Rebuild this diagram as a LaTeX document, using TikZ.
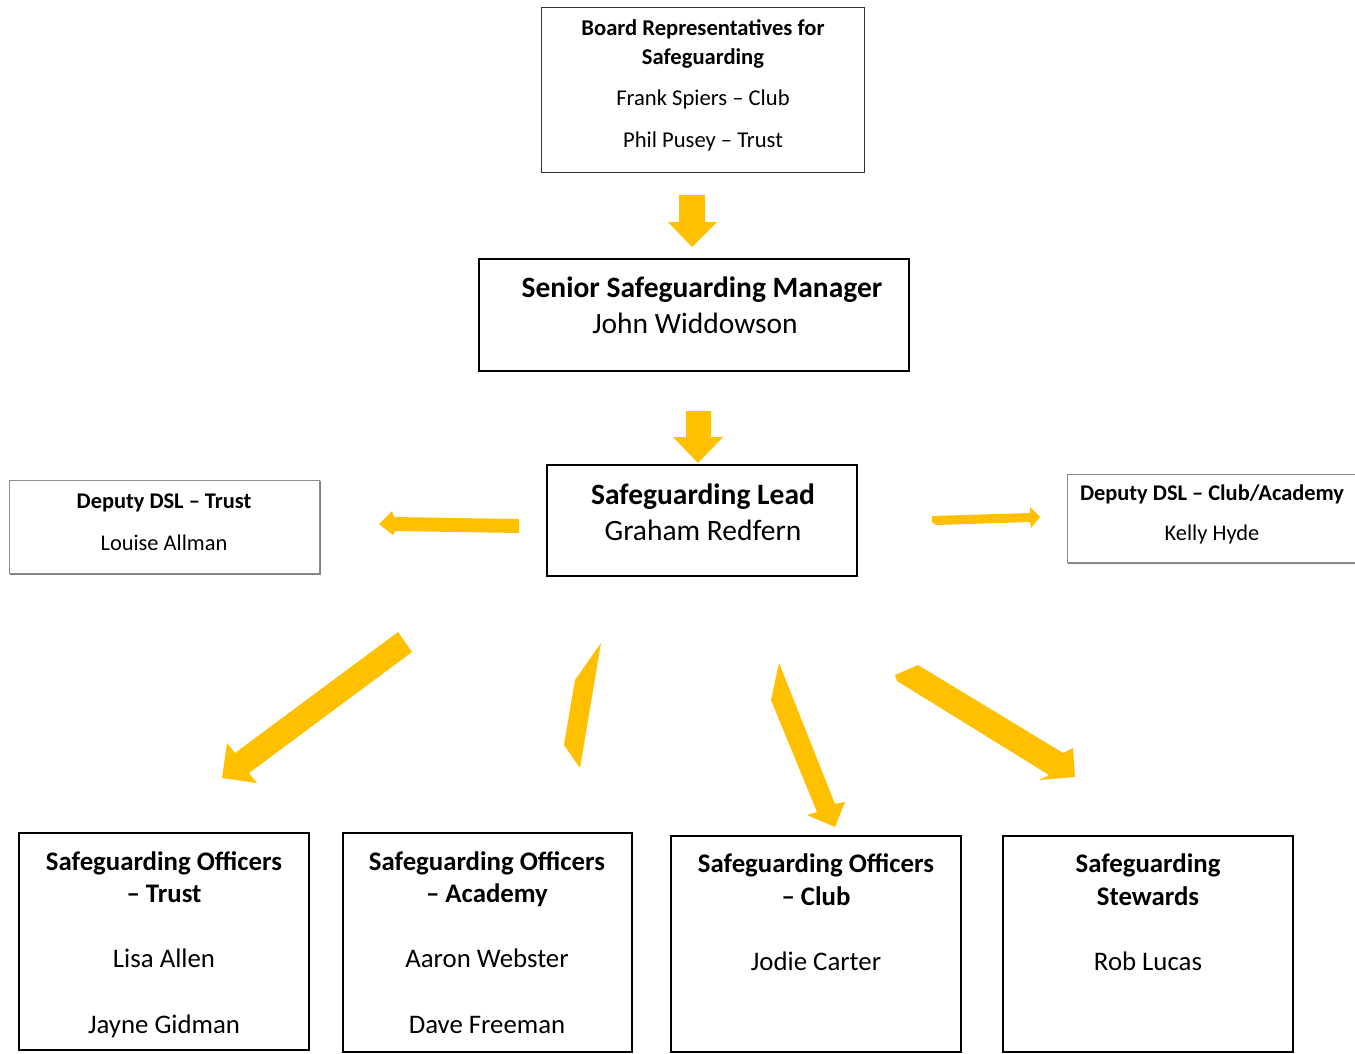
\documentclass[tikz,border=0pt]{standalone}
\usepackage{fontspec}
\setmainfont{Carlito}
\definecolor{gold}{HTML}{FFC000}
\definecolor{shadowgray}{HTML}{808080}
\begin{document}
\begin{tikzpicture}[x=1pt,y=-1pt,
  box/.style={draw=black,line width=1.5pt,fill=white},
  thinbox/.style={draw=black!80,line width=1pt},
  depbox/.style={draw=black!45,line width=1pt},
  arr/.style={fill=gold,draw=none},
  t/.style={inner sep=0pt,anchor=base},
  fA/.style={font=\fontsize{22.6}{26}\selectfont},
  fB/.style={font=\fontsize{29.5}{34}\selectfont},
  fC/.style={font=\fontsize{22.4}{26}\selectfont},
  fD/.style={font=\fontsize{26.8}{31}\selectfont}]
\useasboundingbox (0,0) rectangle (1355,1053);
\fill[white] (0,0) rectangle (1355,1053);

% Board box
\draw[thinbox] (541,7) rectangle (864,172);
\node[t,fA] (b1) at (703,35) {\bfseries Board Representatives for};
\node[t,fA] (b2) at (703,64) {\bfseries Safeguarding};
\node[t,fA] (b3) at (703,105) {Frank Spiers -- Club};
\node[t,fA] (b4) at (703,147) {Phil Pusey -- Trust};

% Senior box
\draw[box] (479,259) rectangle (909,371);
\node[t,fB] (s1) at (702,297) {\bfseries Senior Safeguarding Manager};
\node[t,fB] (s2) at (695,333) {John Widdowson};

% Lead box
\draw[box] (547,465) rectangle (857,576);
\node[t,fB] (l1) at (703,504) {\bfseries Safeguarding Lead};
\node[t,fB] (l2) at (703,540) {Graham Redfern};

% Deputy Trust
\draw[shadowgray,line width=2pt] (10,574) -- (320,574) -- (320,481);
\draw[depbox] (9,480) rectangle (319,573);
\node[t,fC] (d1) at (164,508) {\bfseries Deputy DSL -- Trust};
\node[t,fC] (d2) at (164,550) {Louise Allman};

% Deputy Club/Academy
\draw[shadowgray,line width=2pt] (1068,563) -- (1356,563);
\draw[depbox] (1067,474) rectangle (1360,562);
\node[t,fC] (e1) at (1212,500) {\bfseries Deputy DSL -- Club/Academy};
\node[t,fC] (e2) at (1212,540) {Kelly Hyde};

% Bottom boxes
\draw[box] (19,833) rectangle (309,1050);
\node[t,fD] (o1a) at (164,870) {\bfseries Safeguarding Officers};
\node[t,fD] (o1b) at (164,902) {\bfseries -- Trust};
\node[t,fD] (o1c) at (164,967) {Lisa Allen};
\node[t,fD] (o1d) at (164,1033) {Jayne Gidman};

\draw[box] (343,833) rectangle (632,1052);
\node[t,fD] (o2a) at (487,870) {\bfseries Safeguarding Officers};
\node[t,fD] (o2b) at (487,902) {\bfseries -- Academy};
\node[t,fD] (o2c) at (487,967) {Aaron Webster};
\node[t,fD] (o2d) at (487,1033) {Dave Freeman};

\draw[box] (671,836) rectangle (961,1052);
\node[t,fD] (o3a) at (816,872) {\bfseries Safeguarding Officers};
\node[t,fD] (o3b) at (816,905) {\bfseries -- Club};
\node[t,fD] (o3c) at (816,970) {Jodie Carter};

\draw[box] (1003,836) rectangle (1293,1052);
\node[t,fD] (o4a) at (1148,872) {\bfseries Safeguarding};
\node[t,fD] (o4b) at (1148,905) {\bfseries Stewards};
\node[t,fD] (o4c) at (1148,970) {Rob Lucas};

% Arrows
\fill[arr] (679,195) -- (705,195) -- (705,222) -- (717,222) -- (692,247) -- (668,222) -- (679,222) -- cycle;
\fill[arr] (686,411) -- (711,411) -- (711,437) -- (723,437) -- (698,463) -- (673,437) -- (686,437) -- cycle;
\fill[arr] (519,519) -- (519,533) -- (395,531) -- (393,535) -- (379,524) -- (392,511) -- (394,517) -- cycle;
\fill[arr] (932,516) -- (1030,513) -- (1030,507) -- (1040,517) -- (1031,528) -- (1030,522) -- (936,525) -- (932,522) -- cycle;
\fill[arr] (398,632) -- (412,652) -- (249,773) -- (257,783) -- (222,778) -- (227,743) -- (235,753) -- cycle;
\fill[arr] (601,643) -- (580,768) -- (564,745) -- (575,680) -- cycle;
\fill[arr] (779,663) -- (835,804) -- (845,802) -- (835,827) -- (807,815) -- (817,812) -- (771,700) -- cycle;
\fill[arr] (918,665) -- (1063,753) -- (1073,748) -- (1075,777) -- (1039,780) -- (1049,775) -- (897,681) -- (895,675) -- cycle;
\end{tikzpicture}
\end{document}
